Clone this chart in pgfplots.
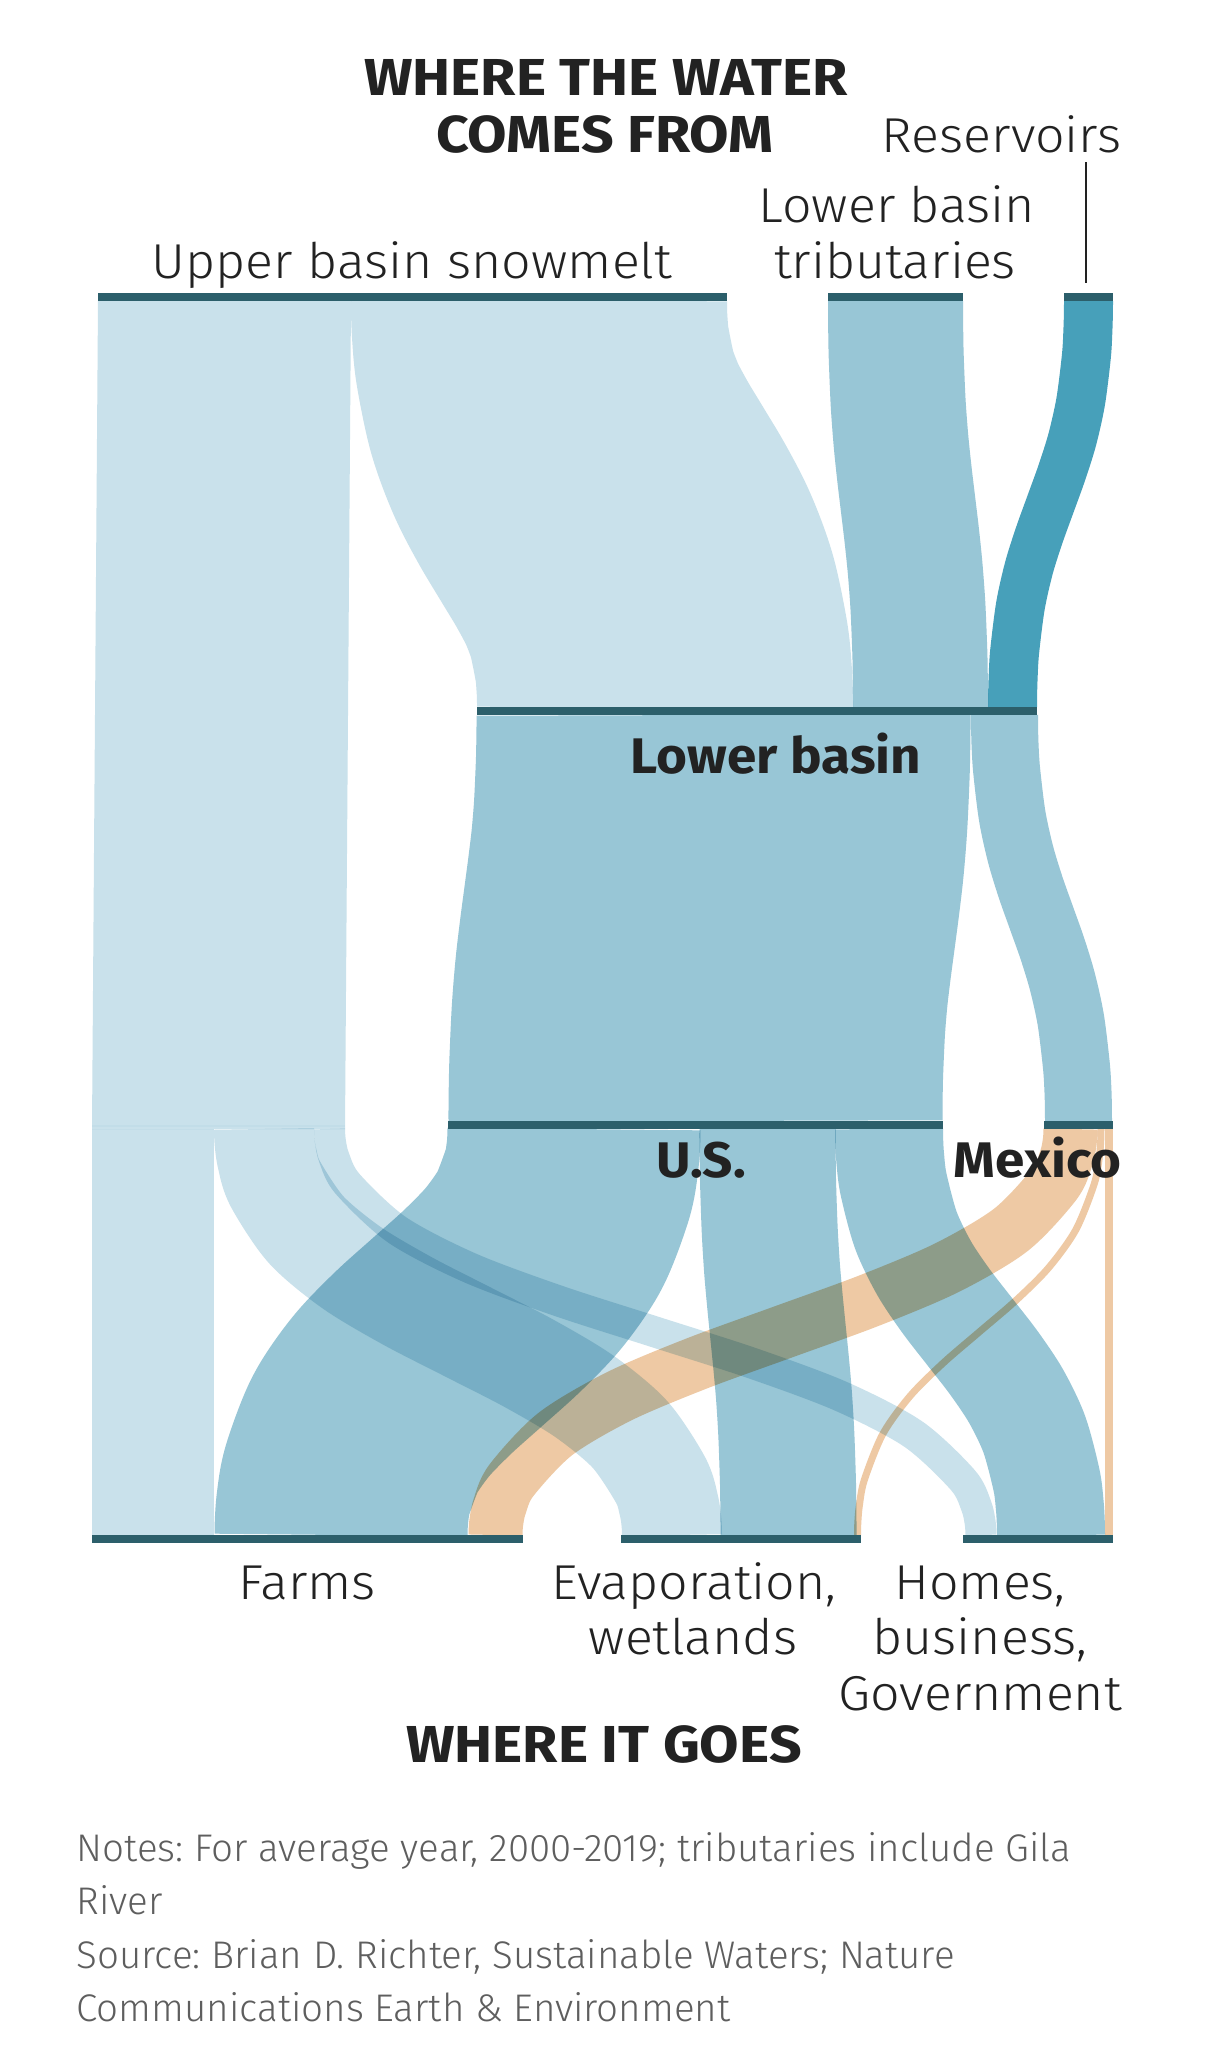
\documentclass[border=0pt]{standalone}
\usepackage{fontspec}
\setmainfont{Fira Sans}[UprightFont={* Light}, BoldFont={* Bold}, FakeStretch=1.06]
\newfontfamily\titlefont{Fira Sans}[FakeStretch=1.1]
\newfontfamily\notefont{Fira Sans}[UprightFont={* Light}]
\usepackage{pgfplots}
\pgfplotsset{compat=1.18}
\frenchspacing

\definecolor{snow}{HTML}{C9E1EB}
\definecolor{lower}{HTML}{98C6D6}
\definecolor{resv}{HTML}{47A0BA}
\definecolor{mex}{HTML}{EEC9A4}
\definecolor{node}{HTML}{2C5F6B}
\definecolor{txt}{HTML}{222222}
\definecolor{note}{HTML}{5E5E5E}

\newcommand\reg{\fontsize{49}{57}\selectfont}
\newcommand\lab{\fontsize{50}{58}\selectfont\bfseries}
\newcommand\hd{\titlefont\fontsize{52}{60}\selectfont\bfseries}
\newcommand\nt{\notefont\fontsize{38.5}{46}\selectfont}

\pgfplotsset{
  link/.style={smooth, mark=none, line cap=butt, line join=round, blend mode=multiply},
  block/.style={fill=#1, draw=none, mark=none, blend mode=multiply},
  bar/.style={draw=node, line width=8pt, line cap=butt, mark=none},
}

\begin{document}
\begin{tikzpicture}
\begin{axis}[
  scale only axis, width=1206pt, height=2047pt,
  xmin=0, xmax=1206, ymin=0, ymax=2047, y dir=reverse,
  axis lines=none, clip=false]

% page background
\addplot[fill=white, draw=none, mark=none] coordinates {(0,0) (1206,0) (1206,2047) (0,2047)};

% ---- upper basin water used before the lower basin (straight column)
\addplot[block=snow] coordinates {(98,301) (351,301) (345,1129) (92,1129)};
\addplot[block=snow] coordinates {(92,1129) (214,1129) (214,1535) (92,1535)};
\addplot[draw=snow!85!lower, line width=2pt, mark=none] coordinates {(92,1126) (345,1126)};

% ---- sources -> lower basin (centre line of each link)
\addplot[link, draw=snow, line width=376pt] coordinates {
  (539,301) (539.1,313) (539.9,330) (542.5,356) (552.1,402) (566.2,440) (583.4,473) (602,504)
  (620.6,535) (637.8,568) (651.9,606) (661.5,652) (664.1,678) (664.9,695) (665,707)};
\addplot[link, draw=lower, line width=135pt] coordinates {
  (895.5,301) (895.5,313) (895.7,330) (896.2,356) (898.1,402) (900.9,440) (904.3,473) (908,504)
  (911.7,535) (915.1,568) (917.9,606) (919.8,652) (920.3,678) (920.5,695) (920.5,707)};
\addplot[link, draw=resv, line width=49pt] coordinates {
  (1088.5,301) (1088.4,313) (1087.9,330) (1086.4,356) (1080.6,402) (1072.1,440) (1061.7,473) (1050.5,504)
  (1039.3,535) (1028.9,568) (1020.4,606) (1014.6,652) (1013.1,678) (1012.6,695) (1012.5,707)};

% ---- lower basin -> U.S. / Mexico
\addplot[link, draw=lower, line width=494pt] coordinates {
  (723.5,715) (723.5,727) (723.3,744) (722.7,770) (720.6,816) (717.5,854) (713.6,887) (709.5,918)
  (705.4,949) (701.5,982) (698.4,1020) (696.3,1066) (695.7,1092) (695.5,1109) (695.5,1121)};
\addplot[link, draw=lower, line width=67pt] coordinates {
  (1004.5,715) (1004.6,727) (1005,744) (1006.6,770) (1012.2,816) (1020.5,854) (1030.5,887) (1041.5,918)
  (1052.5,949) (1062.5,982) (1070.8,1020) (1076.4,1066) (1078,1092) (1078.4,1109) (1078.5,1121)};

% ---- upper basin use -> evaporation, homes
\addplot[link, draw=snow, line width=100pt] coordinates {
  (264,1129) (264.5,1141) (267,1158) (275.4,1184) (306.4,1230) (352.1,1268) (407.6,1301) (468,1332)
  (528.4,1363) (583.9,1396) (629.6,1434) (660.6,1480) (669,1506) (671.5,1523) (672,1535)};
\addplot[link, draw=snow, line width=31pt] coordinates {
  (329.5,1129) (330.3,1141) (334.2,1158) (347.7,1184) (397.3,1230) (470.2,1268) (558.8,1301) (655.3,1332)
  (751.7,1363) (840.3,1396) (913.2,1434) (962.8,1480) (976.3,1506) (980.2,1523) (981,1535)};

% ---- U.S. -> farms, evaporation, homes
\addplot[link, draw=lower, line width=253pt] coordinates {
  (574,1129) (573.7,1141) (572.3,1158) (567.5,1184) (549.8,1230) (523.7,1268) (492,1301) (457.5,1332)
  (423,1363) (391.3,1396) (365.2,1434) (347.5,1480) (342.7,1506) (341.3,1523) (341,1535)};
\addplot[link, draw=lower, line width=136pt] coordinates {
  (767.5,1129) (767.5,1141) (767.7,1158) (768.1,1184) (769.7,1230) (772,1268) (774.9,1301) (778,1332)
  (781.1,1363) (784,1396) (786.3,1434) (787.9,1480) (788.3,1506) (788.5,1523) (788.5,1535)};
\addplot[link, draw=lower, line width=108pt] coordinates {
  (889,1129) (889.2,1141) (890.2,1158) (893.5,1184) (905.8,1230) (924,1268) (946,1301) (970,1332)
  (994,1363) (1016,1396) (1034.2,1434) (1046.5,1480) (1049.8,1506) (1050.8,1523) (1051,1535)};

% ---- Mexico -> farms, evaporation, homes
\addplot[link, draw=mex, line width=54pt] coordinates {
  (1070.5,1129) (1069.8,1141) (1066.3,1158) (1054.4,1184) (1010.7,1230) (946.3,1268) (868.1,1301) (783,1332)
  (697.9,1363) (619.7,1396) (555.3,1434) (511.6,1480) (499.7,1506) (496.2,1523) (495.5,1535)};
\addplot[link, draw=mex, line width=7pt] coordinates {
  (1101,1129) (1100.7,1141) (1099.2,1158) (1094.2,1184) (1075.7,1230) (1048.4,1268) (1015.3,1301) (979.2,1332)
  (943.2,1363) (910.1,1396) (882.8,1434) (864.3,1480) (859.3,1506) (857.8,1523) (857.5,1535)};
\addplot[link, draw=mex, line width=8pt] coordinates {(1109,1129) (1109,1535)};

% ---- nodes
\addplot[bar] coordinates {(98,297) (727,297)};
\addplot[bar] coordinates {(828,297) (963,297)};
\addplot[bar] coordinates {(1064,297) (1113,297)};
\addplot[bar] coordinates {(477,711) (1037,711)};
\addplot[bar] coordinates {(448,1125) (943,1125)};
\addplot[bar] coordinates {(1044,1125) (1113,1125)};
\addplot[bar] coordinates {(92,1539) (523,1539)};
\addplot[bar] coordinates {(621,1539) (861,1539)};
\addplot[bar] coordinates {(963,1539) (1113,1539)};
\addplot[draw=txt, line width=2.5pt, mark=none] coordinates {(1086,162) (1086,283)};

% ---- labels
\node[anchor=base, text=txt, font=\hd] at (axis cs:606,96) {WHERE THE WATER};
\node[anchor=base, text=txt, font=\hd] at (axis cs:605,152) {COMES FROM};
\node[anchor=base east, text=txt, font=\reg] at (axis cs:1125,152) {Reservoirs};
\node[anchor=base, text=txt, font=\reg] at (axis cs:897,222) {Lower basin};
\node[anchor=base, text=txt, font=\reg] at (axis cs:895,278) {tributaries};
\node[anchor=base, text=txt, font=\reg] at (axis cs:412,278) {Upper basin snowmelt};
\node[anchor=base, text=txt, font=\lab] at (axis cs:776,773) {Lower basin};
\node[anchor=base, text=txt, font=\lab] at (axis cs:701,1177) {U.S.};
\node[anchor=base east, text=txt, font=\lab] at (axis cs:1125,1177) {Mexico};
\node[anchor=base, text=txt, font=\reg] at (axis cs:307,1599) {Farms};
\node[anchor=base, text=txt, font=\reg] at (axis cs:694,1599) {Evaporation,};
\node[anchor=base, text=txt, font=\reg] at (axis cs:693,1654) {wetlands};
\node[anchor=base, text=txt, font=\reg] at (axis cs:980,1599) {Homes,};
\node[anchor=base, text=txt, font=\reg] at (axis cs:980,1654) {business,};
\node[anchor=base, text=txt, font=\reg] at (axis cs:980,1710) {Government};
\node[anchor=base, text=txt, font=\hd] at (axis cs:604,1762) {WHERE IT GOES};
\node[anchor=base west, text=note, font=\nt] at (axis cs:73,1861) {Notes: For average year, 2000-2019; tributaries include Gila};
\node[anchor=base west, text=note, font=\nt] at (axis cs:73,1914) {River};
\node[anchor=base west, text=note, font=\nt] at (axis cs:73,1968) {Source: Brian D. Richter, Sustainable Waters; Nature};
\node[anchor=base west, text=note, font=\nt] at (axis cs:73,2021) {Communications Earth \& Environment};
\end{axis}
\end{tikzpicture}
\end{document}
